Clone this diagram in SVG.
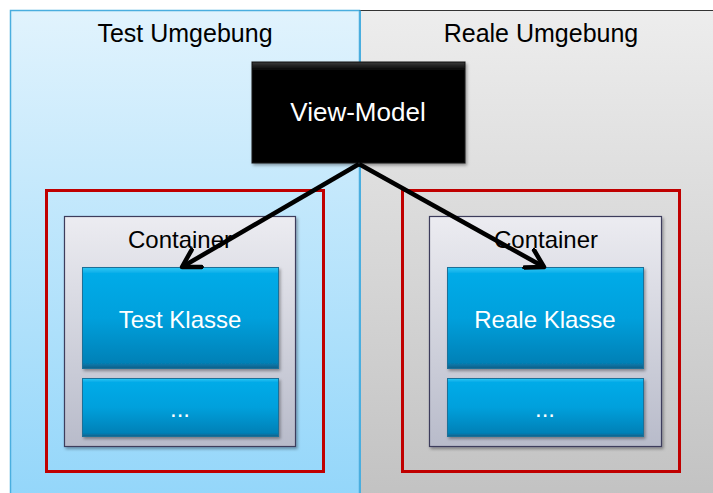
<svg xmlns="http://www.w3.org/2000/svg" width="713" height="493" viewBox="0 0 713 493">
  <defs>
    <linearGradient id="gTest" x1="0" y1="0" x2="0" y2="1">
      <stop offset="0" stop-color="#e1f3fd"/>
      <stop offset="1" stop-color="#93d6fa"/>
    </linearGradient>
    <linearGradient id="gReal" x1="0" y1="0" x2="0" y2="1">
      <stop offset="0" stop-color="#ededed"/>
      <stop offset="1" stop-color="#c2c2c2"/>
    </linearGradient>
    <linearGradient id="gCont" x1="0" y1="0" x2="0" y2="1">
      <stop offset="0" stop-color="#ececf1"/>
      <stop offset="1" stop-color="#b8bbca"/>
    </linearGradient>
    <linearGradient id="gClass" x1="0" y1="0" x2="0" y2="1">
      <stop offset="0" stop-color="#2fc8f4"/>
      <stop offset="0.06" stop-color="#05abe8"/>
      <stop offset="0.5" stop-color="#05a0dc"/>
      <stop offset="0.94" stop-color="#0581b7"/>
      <stop offset="1" stop-color="#0b5f87"/>
    </linearGradient>
    <linearGradient id="gVM" x1="0" y1="0" x2="0" y2="1">
      <stop offset="0" stop-color="#3a3a3a"/>
      <stop offset="0.08" stop-color="#060606"/>
      <stop offset="1" stop-color="#030303"/>
    </linearGradient>
    <filter id="shadow" x="-10%" y="-10%" width="125%" height="130%">
      <feDropShadow dx="1.5" dy="2" stdDeviation="1.5" flood-color="#000" flood-opacity="0.35"/>
    </filter>
    <marker id="openArrow" viewBox="0 0 24 24" refX="19" refY="12" markerWidth="24" markerHeight="24" markerUnits="userSpaceOnUse" orient="auto">
      <path d="M2,2 L19,12 L2,22" fill="none" stroke="#000" stroke-width="4.5" stroke-linejoin="round" stroke-linecap="round"/>
    </marker>
    <style>
      .title { font-family: "Liberation Sans", Arial, sans-serif; font-size: 25px; fill: #000; text-anchor: middle; }
      .label { font-family: "Liberation Sans", Arial, sans-serif; font-size: 24px; fill: #fff; text-anchor: middle; }
      .cont-label { font-family: "Liberation Sans", Arial, sans-serif; font-size: 24px; fill: #000; text-anchor: middle; }
      .group-frame { fill: none; stroke: #c00000; stroke-width: 3; }
      .container { fill: url(#gCont); stroke: #3c3c5c; stroke-width: 1.2; }
      .cls { fill: url(#gClass); stroke: #1c6f98; stroke-width: 1; }
      .connector { fill: none; stroke: #000; stroke-width: 4.5; marker-end: url(#openArrow); }
    </style>
  </defs>

  <rect x="0" y="0" width="713" height="493" fill="#fff"/>

  <!-- environment panels -->
  <g id="test-env">
    <rect x="10.5" y="10.5" width="349" height="490" fill="url(#gTest)" stroke="#4aaedf" stroke-width="1.5"/>
    <text class="title" x="185" y="42">Test Umgebung</text>
  </g>
  <g id="real-env">
    <rect x="360" y="10.5" width="360" height="490" fill="url(#gReal)" stroke="#333" stroke-width="1"/>
    <line x1="360" y1="10.5" x2="360" y2="493" stroke="#4aaedf" stroke-width="2"/>
    <text class="title" x="541" y="42">Reale Umgebung</text>
  </g>

  <!-- red grouping frames -->
  <g id="test-frame">
    <rect class="group-frame" x="46.5" y="190.5" width="277" height="281"/>
  </g>
  <g id="real-frame">
    <rect class="group-frame" x="402.5" y="190.5" width="277" height="281"/>
  </g>

  <!-- containers -->
  <g id="test-container">
    <rect class="container" x="64.5" y="216.5" width="231" height="230" filter="url(#shadow)"/>
    <text class="cont-label" x="180" y="248">Container</text>
  </g>
  <g id="real-container">
    <rect class="container" x="429.5" y="216.5" width="232" height="230" filter="url(#shadow)"/>
    <text class="cont-label" x="546" y="248">Container</text>
  </g>

  <!-- classes -->
  <g id="test-class">
    <rect class="cls" x="82.5" y="267.5" width="196" height="101" filter="url(#shadow)"/>
    <text class="label" x="180" y="328">Test Klasse</text>
  </g>
  <g id="test-more">
    <rect class="cls" x="82.5" y="378.5" width="196" height="58" filter="url(#shadow)"/>
    <text class="label" x="180" y="417">...</text>
  </g>
  <g id="real-class">
    <rect class="cls" x="447.5" y="267.5" width="196" height="101" filter="url(#shadow)"/>
    <text class="label" x="545" y="328">Reale Klasse</text>
  </g>
  <g id="real-more">
    <rect class="cls" x="447.5" y="378.5" width="196" height="58" filter="url(#shadow)"/>
    <text class="label" x="545" y="417">...</text>
  </g>

  <!-- view model -->
  <g id="view-model">
    <rect x="252" y="62" width="213" height="101" fill="url(#gVM)" stroke="#111" stroke-width="1" filter="url(#shadow)"/>
    <text class="label" x="358" y="121" style="font-size:26px">View-Model</text>
  </g>

  <!-- connectors -->
  <g id="connectors">
    <line class="connector" x1="359" y1="164" x2="182" y2="267"/>
    <line class="connector" x1="359" y1="164" x2="544" y2="267"/>
  </g>
</svg>
